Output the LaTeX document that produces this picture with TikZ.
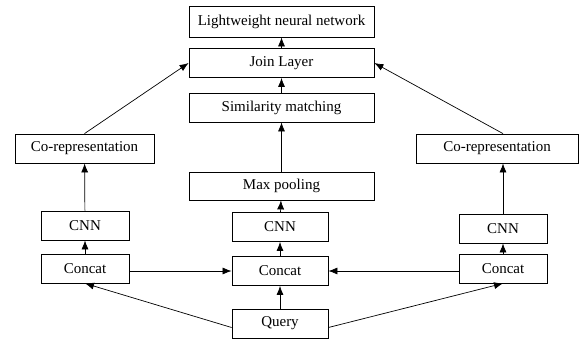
\documentclass[tikz,border=0pt]{standalone}
\usepackage{fontspec}
\setmainfont{Liberation Serif}
\usetikzlibrary{arrows.meta,positioning}

\begin{document}
\begin{tikzpicture}[
  x=1pt, y=-1pt,
  font=\fontsize{15}{17}\selectfont,
  box/.style={draw, line width=0.8pt, align=center, inner sep=2pt,
              minimum height=29pt},
  wide/.style={box, minimum width=185pt},
  small/.style={box, minimum width=92pt},
  up/.style={-{Latex[length=9pt,width=7pt]}, line width=0.7pt}]
\useasboundingbox (0,0) rectangle (580,340);
% centre column
\node[wide, minimum height=31pt] (light) at (281.5,21.5) {Lightweight neural network};
\node[wide] (join) at (281.5,63) {Join Layer};
\node[wide] (sim) at (281.5,107.5) {Similarity matching};
\node[wide, minimum height=28pt] (maxp) at (281.5,186) {Max pooling};
\node[small, minimum width=96pt] (ccnn) at (280,227) {CNN};
\node[small, minimum width=96pt] (cconcat) at (280,271) {Concat};
\node[small, minimum width=96pt] (query) at (280,323.5) {Query};
% left branch
\node[box, minimum width=139pt] (lco) at (84.5,148.5) {Co-representation};
\node[small, minimum width=88pt] (lcnn) at (85,225.5) {CNN};
\node[small, minimum width=88pt] (lconcat) at (85,268.5) {Concat};
% right branch
\node[box, minimum width=162pt] (rco) at (497,148.5) {Co-representation};
\node[small, minimum width=88pt] (rcnn) at (503,228.5) {CNN};
\node[small, minimum width=88pt] (rconcat) at (503,268.5) {Concat};

\draw[up] (join) -- (light);
\draw[up] (sim) -- (join);
\draw[up] (maxp) -- (sim);
\draw[up] (ccnn) -- (maxp);
\draw[up] (cconcat) -- (ccnn);
\draw[up] (query) -- (cconcat);
\draw[up] (lconcat) -- (lcnn);
\draw[up] (lcnn) -- (lco);
\draw[up] (lco.north) -- (join.west);
\draw[up] (rconcat) -- (rcnn);
\draw[up] (rcnn) -- (rcnn |- rco.south);
\draw[up] (rcnn |- rco.north) -- (join.east);
\draw[up] (lconcat.east |- cconcat.west) -- (cconcat.west);
\draw[up] (rconcat.west |- cconcat.east) -- (cconcat.east);
\draw[up] ([yshift=-4pt]query.west) -- (lconcat.south);
\draw[up] ([yshift=-4pt]query.east) -- (rconcat.south);
\end{tikzpicture}
\end{document}
